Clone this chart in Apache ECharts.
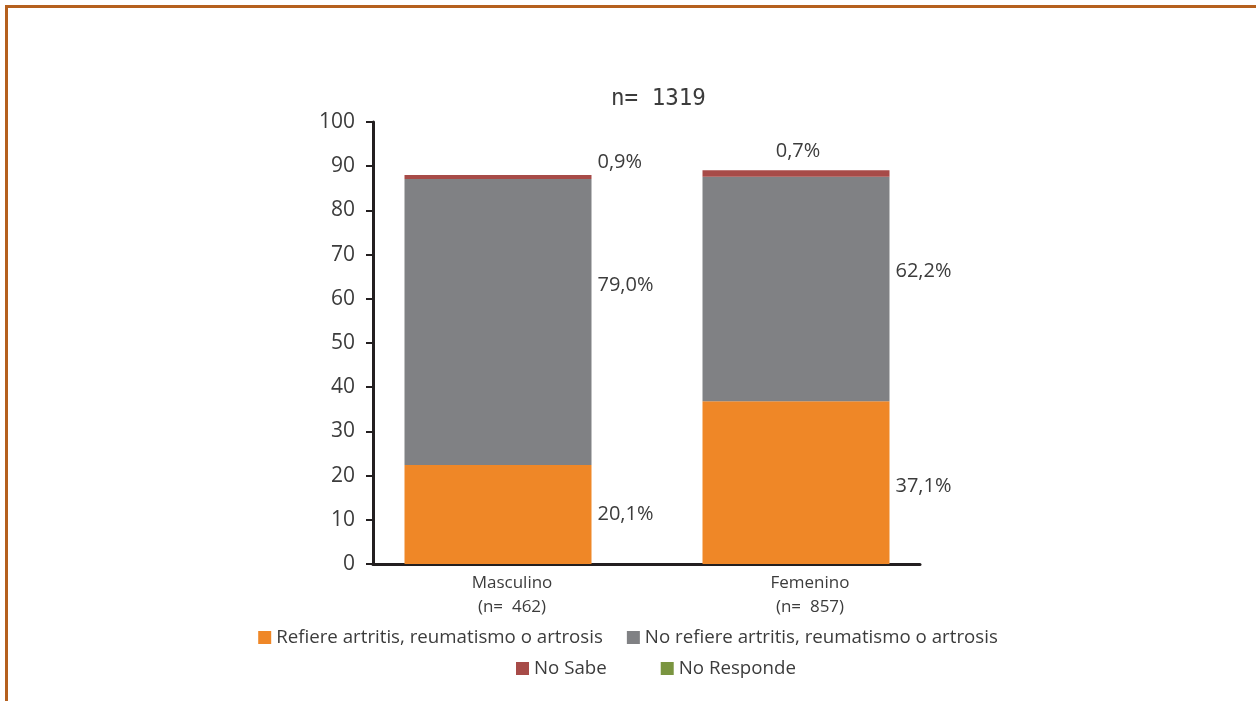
<!DOCTYPE html>
<html>
<head>
    <meta charset="utf-8" />
    <title>Artritis por sexo</title>
    <script src="https://cdn.jsdelivr.net/npm/echarts@6/dist/echarts.min.js"></script>
    <style>
        html, body { margin: 0; padding: 0; background: #fff; }
        #marco { position: absolute; left: 5px; top: 5px; width: 1400px; height: 800px; border: 3px solid #B5601E; }
        #main { position: absolute; left: 0; top: 0; width: 1256px; height: 701px; }
    </style>
</head>
<body>
    <div id="marco"></div>
    <div id="main"></div>
    <script type="text/javascript">
        var categorias = ['Masculino', 'Femenino'];
        var tamanos = ['462', '857'];
        var totalN = '1319';

        var refiere = [22.4, 36.8];
        var noRefiere = [64.7, 50.8];
        var noSabe = [0.9, 1.5];
        var noResponde = [0, 0];

        var etqRefiere = ['20,1%', '37,1%'];
        var etqNoRefiere = ['79,0%', '62,2%'];
        var etqNoSabe = ['0,9%', '0,7%'];

        var nombres = ['Refiere artritis, reumatismo o artrosis', 'No refiere artritis, reumatismo o artrosis', 'No Sabe', 'No Responde'];
        var colores = ['#EF8727', '#808184', '#A74B48', '#7A9540'];

        var txt = '#3c3c3c';
        var fuente = '"Open Sans", sans-serif';

        // desplazamiento de cada etiqueta (posicion, [dx, dy])
        var ajustes = [
            [['right', [0, 0]], ['right', [0, 4]]],
            [['right', [0, -37]], ['right', [0, -18]]],
            [['right', [0, -15]], ['top', [2, 0]]]
        ];

        function armar(valores, etiquetas, k) {
            return valores.map(function (v, i) {
                var item = { value: v };
                if (etiquetas) {
                    var a = ajustes[k][i];
                    item.label = {
                        show: true, position: a[0], offset: a[1],
                        distance: a[0] == 'top' ? 9 : 6,
                        formatter: etiquetas[i], color: txt, fontSize: 20, fontFamily: fuente
                    };
                }
                return item;
            });
        }

        var datos = [refiere, noRefiere, noSabe, noResponde];
        var etiquetas = [etqRefiere, etqNoRefiere, etqNoSabe, null];

        var series = datos.map(function (d, k) {
            return {
                name: nombres[k], type: 'bar', stack: 'total', barWidth: 187,
                xAxisIndex: 0, yAxisIndex: 0,
                itemStyle: { color: colores[k] },
                data: armar(d, etiquetas[k], k)
            };
        });

        var myChart = echarts.init(document.getElementById('main'));
        var option = {
            animation: false,
            textStyle: { fontFamily: fuente, color: txt },
            title: {
                text: 'n= ' + totalN, left: 606, top: 83,
                textStyle: { fontSize: 22.5, fontWeight: 'normal', color: txt, fontFamily: '"DejaVu Sans Mono", monospace' }
            },
            grid: [
                { left: 349, width: 596, top: 122, height: 442 },
                { left: 373, width: 547, top: 122, height: 442 }
            ],
            xAxis: [
                {
                    gridIndex: 0, type: 'category', data: categorias,
                    axisLine: { show: false }, axisTick: { show: false },
                    axisLabel: {
                        color: txt, fontSize: 17, lineHeight: 24, margin: 7, padding: [0, 0, 0, 28],
                        formatter: function (v, i) { return v + '\n(n=  ' + tamanos[i] + ')'; }
                    }
                },
                {
                    gridIndex: 1, type: 'category', data: categorias,
                    axisLine: { show: true, lineStyle: { color: '#231f20', width: 3 } },
                    axisTick: { show: false }, axisLabel: { show: false }
                }
            ],
            yAxis: [
                { gridIndex: 0, type: 'value', min: 0, max: 100, show: false, splitLine: { show: false } },
                {
                    gridIndex: 1, type: 'value', min: 0, max: 100, interval: 10,
                    axisLine: { show: true, lineStyle: { color: '#231f20', width: 3 } },
                    axisTick: { show: true, length: 7, lineStyle: { color: '#231f20', width: 2 } },
                    axisLabel: { color: txt, fontSize: 21, margin: 18 },
                    splitLine: { show: false }
                }
            ],
            legend: [
                {
                    data: nombres.slice(0, 2), left: 'center', top: 623,
                    icon: 'rect', itemWidth: 13, itemHeight: 13, itemGap: 24,
                    textStyle: { color: txt, fontSize: 18.7, fontFamily: fuente }
                },
                {
                    data: nombres.slice(2), left: 511, top: 654,
                    icon: 'rect', itemWidth: 13, itemHeight: 13, itemGap: 54,
                    textStyle: { color: txt, fontSize: 18.7, fontFamily: fuente }
                }
            ],
            series: series
        };
        myChart.setOption(option);
    </script>
</body>
</html>
